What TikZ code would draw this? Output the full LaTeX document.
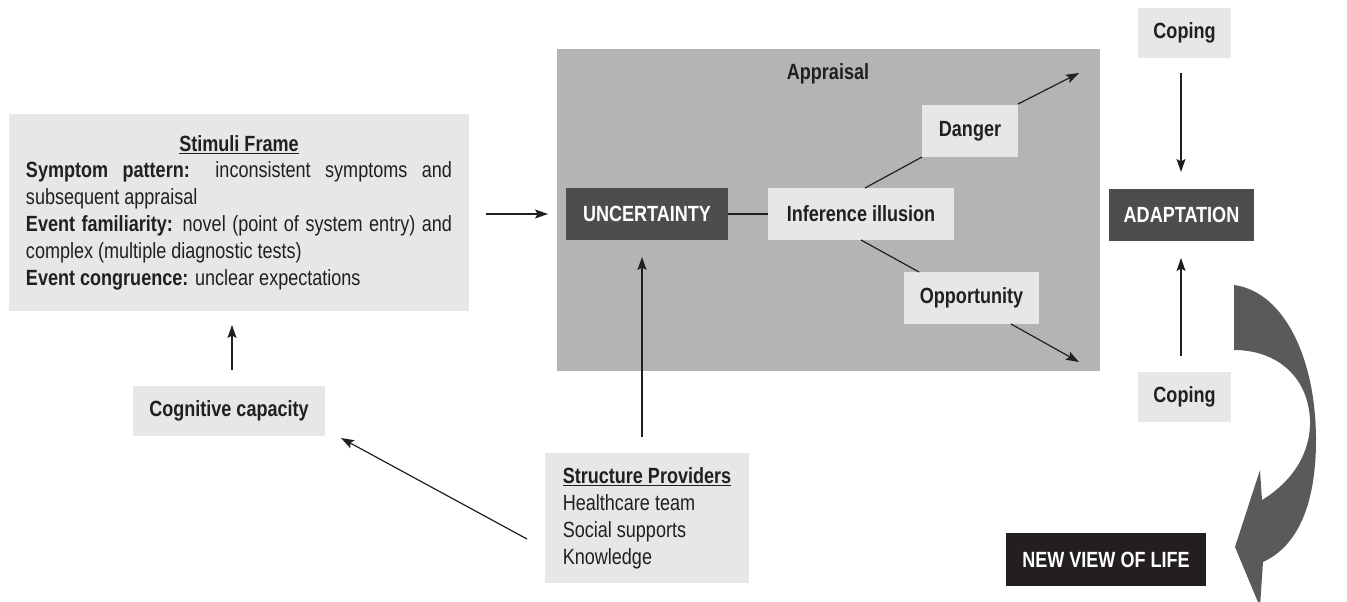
\documentclass[tikz,border=0pt]{standalone}
\usepackage{fontspec}
\setmainfont{Liberation Sans}[FakeStretch=0.82]
\usetikzlibrary{arrows.meta}
\definecolor{lightg}{HTML}{E6E7E8}
\definecolor{midg}{HTML}{B3B4B6}
\definecolor{darkg}{HTML}{4D4D4F}
\definecolor{blk}{HTML}{231F20}
\definecolor{arrg}{HTML}{5A5A5A}
\definecolor{arrd}{HTML}{1A1A1A}
\begin{document}
\begin{tikzpicture}[x=1pt,y=-1pt,
  every node/.style={inner sep=0pt, outer sep=0pt, text=blk, font=\fontsize{22}{26.8}\selectfont},
  lbox/.style={fill=lightg, minimum width=#1},
  dbox/.style={fill=darkg, text=white, font=\fontsize{22}{26.8}\selectfont\bfseries, minimum width=#1, minimum height=52pt},
  arr/.style={draw=blk, line width=1.2pt, -{Stealth[length=13pt,width=9pt,inset=2.5pt]}},
  plain/.style={draw=blk, line width=1.2pt}
]
\useasboundingbox (0,0) rectangle (1347,602);

% Appraisal frame
\node[fill=midg, minimum width=543pt, minimum height=322pt] (appr) at (828.5,210) {};
\node[font=\fontsize{22}{26.8}\selectfont\bfseries] (apprlbl) at (828,74) {Appraisal};

% Stimuli frame
\node[lbox=460pt, minimum height=197pt, align=left] (stim) at (239,212.5) {%
\makebox[426pt][c]{\underline{\textbf{Stimuli Frame}}}\\
\makebox[426pt][s]{\textbf{Symptom pattern:} inconsistent symptoms and}\\
subsequent appraisal\\
\makebox[426pt][s]{\textbf{Event familiarity:} novel (point of system entry) and}\\
complex (multiple diagnostic tests)\\
\textbf{Event congruence:} unclear expectations};

% inner appraisal nodes
\node[dbox=162pt] (unc) at (647,214) {UNCERTAINTY};
\node[lbox=186pt, minimum height=52pt, font=\fontsize{22}{26.8}\selectfont\bfseries] (inf) at (861,214) {Inference illusion};
\node[lbox=96pt, minimum height=52pt, font=\fontsize{22}{26.8}\selectfont\bfseries] (dang) at (970,131) {Danger};
\node[lbox=135pt, minimum height=52pt, font=\fontsize{22}{26.8}\selectfont\bfseries] (opp) at (971.5,298) {Opportunity};

% right side
\node[lbox=93pt, minimum height=50pt, font=\fontsize{22}{26.8}\selectfont\bfseries] (cop1) at (1184.5,33) {Coping};
\node[dbox=145pt] (adapt) at (1181.5,215) {ADAPTATION};
\node[lbox=93pt, minimum height=50pt, font=\fontsize{22}{26.8}\selectfont\bfseries] (cop2) at (1184.5,397) {Coping};
\node[dbox=200pt, fill=blk, minimum height=53pt] (nvol) at (1106,559.5) {NEW VIEW OF LIFE};

% bottom left
\node[lbox=192pt, minimum height=50pt, font=\fontsize{22}{26.8}\selectfont\bfseries] (cog) at (229,411) {Cognitive capacity};
\node[lbox=204pt, minimum height=130pt, align=left, font=\fontsize{22}{27}\selectfont] (struct) at (647,518) {%
\underline{\textbf{Structure Providers}}\\
Healthcare team\\
Social supports\\
Knowledge};

% free ends
\coordinate (dtip) at (1079,73);
\coordinate (otip) at (1079,362);
\coordinate (sctail) at (527,539);
\coordinate (sctip) at (341,438);

% connectors
\draw[arr, shorten <=17pt, shorten >=18pt] (unc.west -| stim.east) -- (unc.west);
\draw[plain] (unc.east) -- (inf.west);
\draw[plain] ([xshift=4pt]inf.north) -- (dang.south west);
\draw[plain] (inf.south) -- ([xshift=15pt]opp.north west);
\draw[arr] ([yshift=1pt]dang.north east) -- (dtip);
\draw[arr] ([xshift=-28pt]opp.south east) -- (otip);
\draw[arr, shorten <=16pt, shorten >=17pt] ([xshift=-5pt]struct.north) -- ([xshift=-5pt]struct.north |- unc.south);
\draw[arr] (sctail) -- (sctip);
\draw[arr, shorten <=16pt, shorten >=14pt] ([xshift=3pt]cog.north) -- ([xshift=3pt]cog.north |- stim.south);
\draw[arr, shorten <=15pt, shorten >=17pt] ([xshift=-3.5pt]cop1.south) -- ([xshift=-3.5pt]cop1.south |- adapt.north);
\draw[arr, shorten <=16pt, shorten >=17pt] ([xshift=-3.5pt]cop2.north) -- ([xshift=-3.5pt]cop2.north |- adapt.south);

% big curved arrow
\shade[top color=arrg, middle color=arrd, bottom color=arrg]
  (1234,285) .. controls (1285,292) and (1316,360) .. (1316,440)
  .. controls (1316,500) and (1300,545) .. (1263,562)
  -- (1260,607) -- (1235,547) -- (1260,470) -- (1262,500)
  .. controls (1295,480) and (1311,450) .. (1310,420)
  .. controls (1308,375) and (1275,350) .. (1234,350) -- cycle;
\end{tikzpicture}
\end{document}
